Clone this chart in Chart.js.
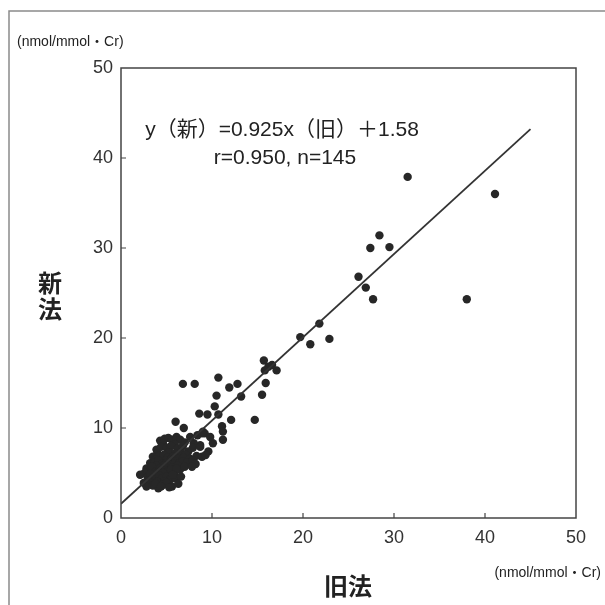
<!DOCTYPE html>
<html>
<head>
<meta charset="utf-8">
<script src="https://cdn.jsdelivr.net/npm/chart.js@4.4.1/dist/chart.umd.min.js"></script>
<style>
  html, body { margin: 0; padding: 0; background: #fff; }
  #wrap { width: 605px; height: 605px; }
</style>
</head>
<body>
<div id="wrap"><canvas id="chart" width="605" height="605"></canvas></div>
<script>
// 旧法 (x) vs 新法 (y), nmol/mmol・Cr

// points away from the main cluster
const spreadPoints = [
    [31.5, 37.9], [41.1, 36.0], [28.4, 31.4], [27.4, 30.0], [29.5, 30.1],
    [26.1, 26.8], [26.9, 25.6], [27.7, 24.3], [38.0, 24.3],
    [21.8, 21.6], [19.7, 20.1], [20.8, 19.3], [22.9, 19.9],
    [15.7, 17.5], [16.2, 16.8], [17.1, 16.4], [15.8, 16.4], [16.6, 17.0],
    [10.7, 15.6], [6.8, 14.9], [8.1, 14.9], [10.5, 13.6], [11.9, 14.5],
    [12.8, 14.9], [15.9, 15.0], [15.5, 13.7], [13.2, 13.5], [14.7, 10.9],
    [10.3, 12.4], [8.6, 11.6], [9.5, 11.5], [10.7, 11.5], [12.1, 10.9],
    [6.0, 10.7], [6.9, 10.0], [11.1, 10.2], [11.2, 9.6], [9.0, 9.6],
    [11.2, 8.7], [10.1, 8.3], [9.2, 9.4], [8.7, 8.1], [7.6, 9.0]
];

// dense cluster near the origin
const clusterPoints = [
    [4.3, 8.6], [4.8, 8.8], [5.2, 8.9], [5.6, 8.7], [6.1, 9.0], [6.5, 8.7], [7.0, 8.4],
    [4.6, 8.3], [5.9, 8.2], [8.0, 8.3], [8.4, 9.2], [9.8, 9.0], [8.9, 9.4],
    [3.9, 7.6], [4.4, 7.9], [5.0, 7.8], [5.5, 8.0], [6.2, 7.7], [6.8, 8.0], [7.4, 7.4],
    [7.9, 7.8], [8.7, 7.9], [9.6, 7.4], [4.0, 7.2], [5.3, 7.3], [6.0, 7.2], [6.6, 7.3], [7.1, 7.0],
    [3.5, 6.8], [4.2, 6.9], [4.7, 7.0], [5.1, 6.7], [5.7, 6.8], [6.3, 6.6], [6.9, 6.7],
    [7.6, 6.6], [8.3, 6.9], [8.9, 6.8], [9.3, 7.0], [3.8, 6.5], [4.9, 6.4], [5.5, 6.5], [6.0, 6.3],
    [3.2, 6.1], [3.7, 6.2], [4.1, 6.4], [4.5, 6.0], [5.0, 6.1], [5.4, 5.9], [5.9, 6.0], [6.4, 6.1],
    [6.8, 6.3], [7.3, 6.2], [7.9, 6.4], [8.2, 6.0], [3.9, 5.8], [4.7, 5.8], [5.6, 5.6], [6.2, 5.8],
    [2.8, 5.5], [3.3, 5.4], [3.4, 5.7], [3.9, 5.2], [4.3, 5.5], [4.8, 5.3], [5.2, 5.2], [5.9, 5.0],
    [6.5, 5.4], [7.0, 5.7], [7.8, 5.7], [4.0, 5.0], [4.6, 5.0], [5.5, 5.4], [6.1, 5.5], [2.6, 5.0],
    [2.1, 4.8], [2.9, 4.6], [3.2, 4.9], [3.6, 4.5], [3.7, 4.3], [4.2, 4.7], [4.5, 4.4], [5.0, 4.6],
    [5.4, 4.3], [6.0, 4.4], [6.6, 4.6], [3.0, 4.2], [4.0, 4.0], [4.8, 4.1], [5.7, 4.8],
    [2.5, 3.9], [3.2, 3.9], [3.5, 3.6], [4.1, 3.3], [4.6, 3.7], [5.0, 3.9], [5.6, 3.5],
    [2.8, 3.5], [3.8, 3.8], [4.4, 3.5], [6.3, 3.8], [5.3, 3.4]
];

const axisTicks = [0, 10, 20, 30, 40, 50];
const fitSlope = 0.925;
const fitIntercept = 1.58;
const fitRange = [0, 45];

const dotColor = '#272727';
const lineColor = '#333';

const scatterData = spreadPoints.concat(clusterPoints).map(p => ({ x: p[0], y: p[1] }));
const fitLine = fitRange.map(x => ({ x: x, y: fitSlope * x + fitIntercept }));

const jpFont = "'Liberation Sans', 'Noto Sans CJK JP', sans-serif";

// box, inward ticks and all the free text
const decorPlugin = {
    id: 'decor',
    afterDraw(chart) {
        const ctx = chart.ctx;
        const area = chart.chartArea;
        const xs = chart.scales.x;
        const ys = chart.scales.y;
        ctx.save();

        // outer frame of the figure
        ctx.strokeStyle = '#8a8a8a';
        ctx.lineWidth = 1.5;
        ctx.beginPath();
        ctx.moveTo(9, 605);
        ctx.lineTo(9, 11);
        ctx.lineTo(605, 11);
        ctx.stroke();

        // plot box
        ctx.strokeStyle = '#444';
        ctx.lineWidth = 1.5;
        ctx.strokeRect(area.left, area.top, area.right - area.left, area.bottom - area.top);

        // inward ticks
        ctx.lineWidth = 1.2;
        ctx.beginPath();
        axisTicks.slice(1, -1).forEach(v => {
            const px = xs.getPixelForValue(v);
            ctx.moveTo(px, area.bottom);
            ctx.lineTo(px, area.bottom - 5);
            const py = ys.getPixelForValue(v);
            ctx.moveTo(area.left, py);
            ctx.lineTo(area.left + 5, py);
        });
        ctx.stroke();

        ctx.fillStyle = '#222';
        ctx.textBaseline = 'middle';

        // regression text
        ctx.textAlign = 'center';
        ctx.font = '21px ' + jpFont;
        ctx.fillText('y（新）=0.925x（旧）＋1.58', 282, 130);
        ctx.fillText('r=0.950, n=145', 285, 158);

        // units
        ctx.font = '14px ' + jpFont;
        ctx.textAlign = 'left';
        ctx.fillText('(nmol/mmol・Cr)', 17, 42);
        ctx.textAlign = 'right';
        ctx.fillText('(nmol/mmol・Cr)', 601, 573);

        // axis titles
        ctx.font = "bold 24px 'Noto Sans CJK JP', sans-serif";
        ctx.textAlign = 'center';
        ctx.fillText('新', 50, 283);
        ctx.fillText('法', 50, 309);
        ctx.fillText('旧法', 348, 586);

        ctx.restore();
    }
};

const tickFont = { family: "'Liberation Sans', Arial, sans-serif", size: 18 };

new Chart(document.getElementById('chart'), {
    type: 'scatter',
    data: {
        datasets: [
            {
                type: 'line',
                data: fitLine,
                borderColor: lineColor,
                borderWidth: 1.8,
                pointRadius: 0,
                fill: false,
                order: 0
            },
            {
                data: scatterData,
                backgroundColor: dotColor,
                borderWidth: 0,
                pointRadius: 4.2,
                order: 1
            }
        ]
    },
    options: {
        responsive: false,
        animation: false,
        layout: { padding: { left: 0, top: 68, right: 29, bottom: 0 } },
        plugins: {
            legend: { display: false },
            tooltip: { enabled: false }
        },
        scales: {
            x: {
                type: 'linear',
                min: 0,
                max: 50,
                afterBuildTicks: s => { s.ticks = axisTicks.map(v => ({ value: v })); },
                afterFit: s => { s.height = 87; },
                grid: { display: false, drawTicks: false },
                border: { display: false },
                ticks: { font: tickFont, color: '#333', padding: 9 }
            },
            y: {
                type: 'linear',
                min: 0,
                max: 50,
                afterBuildTicks: s => { s.ticks = axisTicks.map(v => ({ value: v })); },
                afterFit: s => { s.width = 121; },
                grid: { display: false, drawTicks: false },
                border: { display: false },
                ticks: { font: tickFont, color: '#333', padding: 8 }
            }
        }
    },
    plugins: [decorPlugin]
});
</script>
</body>
</html>
